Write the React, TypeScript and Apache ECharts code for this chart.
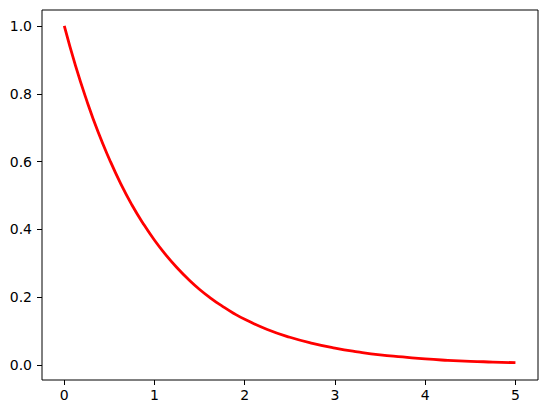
import { useRef, useEffect } from "react";
import * as echarts from "echarts";

// sample points
const xValues = [
  0, 0.125, 0.25, 0.375, 0.5, 0.625, 0.75, 0.875, 1, 1.125, 1.25, 1.375, 1.5,
  1.625, 1.75, 1.875, 2, 2.25, 2.5, 2.75, 3, 3.25, 3.5, 3.75, 4, 4.25, 4.5,
  4.75, 5,
];
const yValues = [
  1.0, 0.882, 0.779, 0.687, 0.607, 0.535, 0.472, 0.417, 0.368, 0.325, 0.287,
  0.253, 0.223, 0.197, 0.174, 0.153, 0.135, 0.105, 0.082, 0.064, 0.05, 0.039,
  0.03, 0.024, 0.018, 0.014, 0.011, 0.009, 0.007,
];
const xTicks = [0, 1, 2, 3, 4, 5];
const yTicks = [0, 0.2, 0.4, 0.6, 0.8, 1.0];

const font = "DejaVu Sans";

const App = () => {
  const chartRef = useRef<HTMLDivElement>(null);

  useEffect(() => {
    document.body.style.margin = "0";
    if (!chartRef.current) return;
    const chart = echarts.init(chartRef.current, undefined, { renderer: "svg" });
    chart.setOption({
      animation: false,
      backgroundColor: "#fff",
      grid: {
        left: 42,
        top: 10,
        right: 9,
        bottom: 33,
        show: true,
        borderColor: "#000",
        borderWidth: 1,
      },
      xAxis: {
        type: "value",
        min: -0.247,
        max: 5.25,
        splitLine: { show: false },
        axisLine: { show: false, onZero: false },
        axisTick: {
          show: true,
          customValues: xTicks,
          length: 5,
          lineStyle: { color: "#000", width: 1 },
        },
        axisLabel: {
          customValues: xTicks,
          margin: 8,
          color: "#000",
          fontFamily: font,
          fontSize: 14,
          formatter: (v: number) => String(v),
        },
      },
      yAxis: {
        type: "value",
        min: -0.044,
        max: 1.047,
        splitLine: { show: false },
        axisLine: { show: false, onZero: false },
        axisTick: {
          show: true,
          customValues: yTicks,
          length: 5,
          lineStyle: { color: "#000", width: 1 },
        },
        axisLabel: {
          customValues: yTicks,
          margin: 10,
          color: "#000",
          fontFamily: font,
          fontSize: 14,
          formatter: (v: number) => v.toFixed(1),
        },
      },
      series: [
        {
          type: "line",
          data: xValues.map((x, i) => [x, yValues[i]]),
          smooth: true,
          showSymbol: false,
          lineStyle: { color: "#ff0000", width: 2.8 },
        },
      ],
    });
    return () => {
      chart.dispose();
    };
  }, []);

  return <div ref={chartRef} style={{ width: 547, height: 413 }}></div>;
};

export default App;
